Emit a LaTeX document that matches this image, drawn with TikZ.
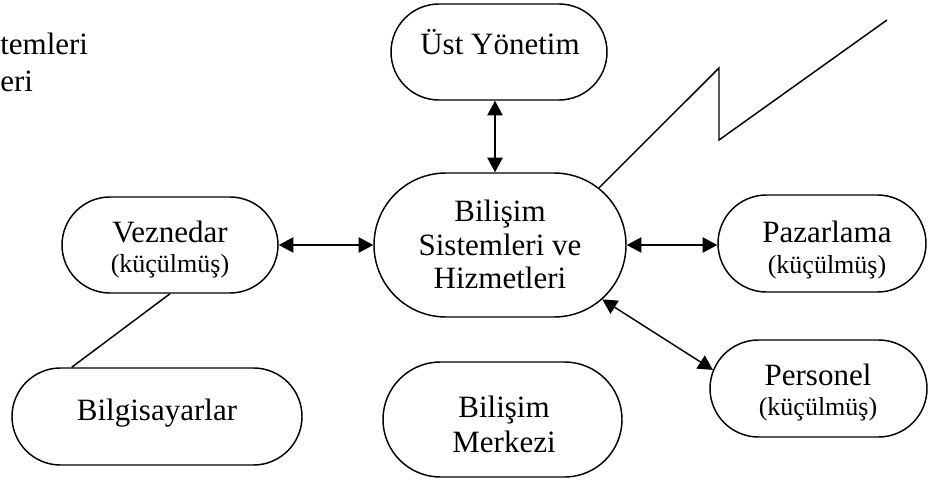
\documentclass[tikz,border=0pt]{standalone}
\usepackage{fontspec}
\setmainfont{Liberation Serif}
\usetikzlibrary{arrows.meta,shapes.misc,calc}

\newcommand\mainsize{\fontsize{23.25}{28}\selectfont}
\newcommand\smallsize{\fontsize{19.5}{23}\selectfont}

\tikzset{
  unit/.style={line width=1.1pt},
  stad/.style 2 args={rounded rectangle, draw, unit, inner sep=0pt,
    minimum width=#1*0.75pt, minimum height=#2*0.75pt},
  label main/.style={anchor=base, inner sep=0pt, font=\mainsize},
  label small/.style={anchor=base, inner sep=0pt, font=\smallsize},
  twoway/.style={unit, {Triangle[length=11pt,width=11.5pt]}-{Triangle[length=11pt,width=11.5pt]}},
  plainline/.style={unit},
}

\begin{document}
\begin{tikzpicture}[x=0.75pt, y=-0.75pt]
\useasboundingbox (0,0) rectangle (928,481);

% partly visible heading at the left edge
\node[anchor=base west, inner sep=0pt, font=\mainsize] (hd1) at (0,55) {temleri};
\node[anchor=base west, inner sep=0pt, font=\mainsize] (hd2) at (0,92) {eri};

% boxes
\node[stad={216}{96}]  (ust) at (499,52) {};
\node[stad={252}{144}] (bis) at (500,245) {};
\node[stad={216}{96}]  (vez) at (170,245) {};
\node[stad={208}{97}]  (paz) at (822,243.5) {};
\node[stad={217}{97}]  (per) at (818.5,388.5) {};
\node[stad={290}{97}]  (bil) at (157,416.5) {};
\node[stad={239}{115}] (mer) at (502.5,419.5) {};

% box texts
\node[label main] (ustT) at (500,55) {Üst Yönetim};

\node[label main] (bisT1) at (500,221) {Bilişim};
\node[label main] (bisT2) at (500,255) {Sistemleri ve};
\node[label main] (bisT3) at (500,288) {Hizmetleri};

\node[label main]  (vezT1) at (170,242) {Veznedar};
\node[label small] (vezT2) at (170,272) {(küçülmüş)};

\node[label main]  (pazT1) at (827,242) {Pazarlama};
\node[label small] (pazT2) at (827,273) {(küçülmüş)};

\node[label main]  (perT1) at (818,385) {Personel};
\node[label small] (perT2) at (818,415) {(küçülmüş)};

\node[label main] (bilT) at (157,420) {Bilgisayarlar};

\node[label main] (merT1) at (504,417) {Bilişim};
\node[label main] (merT2) at (504,452) {Merkezi};

% connectors
\draw[twoway] ($(ust.south)+(-4,0)$) -- ($(bis.north)+(-5,0)$);
\draw[twoway] (vez.east) -- (bis.west);
\draw[twoway] (bis.east) -- (bis.east -| paz.west);
\draw[twoway] (bis.-28) -- (per.170);
\draw[plainline] (vez.south) -- (bil.150.3);

% zigzag link leaving the central box
\coordinate (zz1) at (719,68);
\coordinate (zz2) at (719,140);
\coordinate (zz3) at (887,20);
\draw[plainline, line join=miter] (bis.30.6) -- (zz1) -- (zz2) -- (zz3);
\end{tikzpicture}
\end{document}
